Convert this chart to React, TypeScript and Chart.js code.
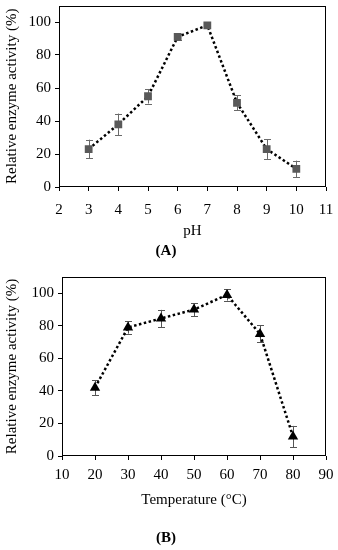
import React, { useEffect, useRef } from 'react';
import { Chart, registerables } from 'chart.js';
Chart.register(...registerables);

const phValues = [3, 4, 5, 6, 7, 8, 9, 10];
const phActivity = [23, 38, 55, 91, 98, 51, 23, 11];
const phError = [5.7, 6.5, 4.4, 2, 1.2, 4.6, 6, 5];

const tempValues = [20, 30, 40, 50, 60, 70, 80];
const tempActivity = [42, 79, 84.5, 90, 99, 75, 12];
const tempError = [4.5, 3.8, 5.3, 4, 3.5, 5.2, 6.5];

const yTickValues = [0, 20, 40, 60, 80, 100];
const yTitle = 'Relative enzyme activity (%)';
const FONT = '"Liberation Serif", "Times New Roman", serif';

const errorBarPlugin = {
  id: 'errorBars',
  beforeDatasetsDraw(chart: any, _args: any, opts: any) {
    const { ctx } = chart;
    const yScale = chart.scales.y;
    chart.data.datasets.forEach((ds: any, i: number) => {
      const meta = chart.getDatasetMeta(i);
      const errs: number[] = ds.errors || [];
      ctx.save();
      ctx.strokeStyle = opts.color || '#666';
      ctx.lineWidth = 1;
      meta.data.forEach((pt: any, j: number) => {
        const v = ds.data[j].y;
        const e = errs[j] || 0;
        const yt = yScale.getPixelForValue(v + e);
        const yb = yScale.getPixelForValue(v - e);
        const x = Math.round(pt.x) + 0.5;
        ctx.beginPath();
        ctx.moveTo(x, yt);
        ctx.lineTo(x, yb);
        ctx.moveTo(x - 3.5, Math.round(yt) + 0.5);
        ctx.lineTo(x + 3.5, Math.round(yt) + 0.5);
        ctx.moveTo(x - 3.5, Math.round(yb) + 0.5);
        ctx.lineTo(x + 3.5, Math.round(yb) + 0.5);
        ctx.stroke();
      });
      ctx.restore();
    });
  },
  afterDraw(chart: any) {
    const { ctx, chartArea } = chart;
    const l = Math.round(chartArea.left) + 0.5;
    const t = Math.round(chartArea.top) + 0.5;
    const r = Math.round(chartArea.right) - 0.5;
    const b = Math.round(chartArea.bottom) - 0.5;
    ctx.save();
    ctx.strokeStyle = '#000';
    ctx.lineWidth = 1;
    ctx.strokeRect(l, t, r - l, b - t);
    ctx.restore();
  },
};

function makeConfig(
  xs: number[], ys: number[], errs: number[],
  xMin: number, xMax: number, xStep: number, xTitle: string,
  yWidth: number, xHeight: number, padTop: number, xTickPad: number,
  pointStyle: string, pointColor: string, pointRadius: number, errColor: string
): any {
  return {
    type: 'line',
    data: {
      datasets: [
        {
          data: xs.map((x, i) => ({ x, y: ys[i] })),
          errors: errs,
          borderColor: '#000',
          borderWidth: 2.5,
          borderDash: [2.5, 2.5],
          borderCapStyle: 'butt',
          pointStyle,
          pointRadius,
          pointBackgroundColor: pointColor,
          pointBorderColor: pointColor,
          pointBorderWidth: 0,
          fill: false,
          tension: 0,
        },
      ],
    },
    options: {
      responsive: false,
      animation: false,
      layout: { padding: { left: 0, right: 12, top: padTop, bottom: 0 } },
      plugins: {
        legend: { display: false },
        tooltip: { enabled: false },
        errorBars: { color: errColor },
      },
      scales: {
        x: {
          type: 'linear',
          min: xMin,
          max: xMax,
          afterFit: (s: any) => {
            s.height = xHeight;
            s.paddingLeft = 0;
            s.paddingRight = 0;
          },
          ticks: {
            stepSize: xStep,
            color: '#000',
            font: { family: FONT, size: 15 },
            padding: xTickPad,
            maxRotation: 0,
          },
          grid: {
            drawOnChartArea: false,
            drawTicks: true,
            tickLength: 4,
            color: '#000',
          },
          border: { display: false },
          title: {
            display: true,
            text: xTitle,
            color: '#000',
            font: { family: FONT, size: 15 },
            padding: 0,
          },
        },
        y: {
          type: 'linear',
          min: 0,
          max: 110,
          afterFit: (s: any) => {
            s.width = yWidth;
            s.paddingTop = 0;
            s.paddingBottom = 0;
          },
          afterBuildTicks: (s: any) => { s.ticks = yTickValues.map((v) => ({ value: v })); },
          ticks: {
            color: '#000',
            font: { family: FONT, size: 15 },
            padding: 4,
          },
          grid: {
            drawOnChartArea: false,
            drawTicks: true,
            tickLength: 4,
            color: '#000',
          },
          border: { display: false },
          title: {
            display: true,
            text: yTitle,
            color: '#000',
            font: { family: FONT, size: 15 },
            padding: { top: 3, bottom: 0 },
          },
        },
      },
    },
    plugins: [errorBarPlugin],
  };
}

function Panel(props: { config: any; width: number; height: number; top: number }) {
  const ref = useRef<HTMLCanvasElement | null>(null);
  useEffect(() => {
    if (!ref.current) return;
    const chart = new Chart(ref.current, props.config);
    return () => chart.destroy();
  }, []);
  return (
    <canvas
      ref={ref}
      width={props.width}
      height={props.height}
      style={{ position: 'absolute', left: 0, top: props.top, width: props.width, height: props.height }}
    />
  );
}

export default function App() {
  const cfgA = makeConfig(phValues, phActivity, phError, 2, 11, 1, 'pH', 59, 53, 4, 10, 'rect', '#595959', 5.5, '#6a6a6a');
  const cfgB = makeConfig(tempValues, tempActivity, tempError, 10, 90, 10, 'Temperature (°C)', 62, 53, 7, 6, 'triangle', '#000', 6, '#555');
  const labelStyle: React.CSSProperties = {
    position: 'absolute',
    left: 0,
    width: 338,
    textAlign: 'center',
    fontFamily: FONT,
    fontSize: 15,
    fontWeight: 'bold',
    color: '#000',
    lineHeight: '18px',
  };
  return (
    <div style={{ position: 'fixed', left: 0, top: 0, width: 338, height: 550, background: '#fff' }}>
      <Panel config={cfgA} width={338} height={240} top={0} />
      <div style={{ ...labelStyle, top: 241, left: -3 }}>(A)</div>
      <Panel config={cfgB} width={338} height={239} top={270} />
      <div style={{ ...labelStyle, top: 528, left: -3 }}>(B)</div>
    </div>
  );
}
